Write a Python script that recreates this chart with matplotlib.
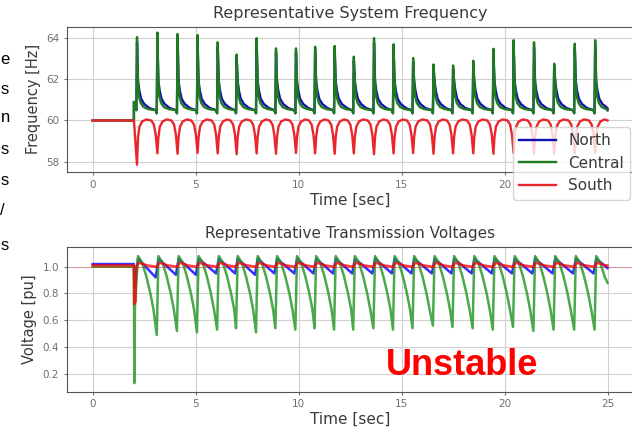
import numpy as np
import matplotlib.pyplot as plt

plt.rcParams['font.family'] = 'DejaVu Sans'

# ---- values ----
end_t = 25.0
fault_t = 2.0

# spike instants (s) and Central / North frequency peaks (Hz)
spike_t = [2.15, 3.14, 4.12, 5.09, 6.07, 6.99, 7.96, 8.90, 9.87, 10.80, 11.75, 12.68,
           13.66, 14.61, 15.56, 16.55, 17.50, 18.48, 19.46, 20.44, 21.43, 22.41, 23.41, 24.40]
central_peak = [64.05, 64.27, 64.20, 64.15, 63.80, 63.20, 64.00, 63.50, 63.50, 63.58, 63.62, 63.10,
                64.00, 63.70, 63.03, 62.72, 62.67, 62.90, 63.48, 63.90, 63.80, 62.76, 63.73, 63.90]
north_peak = [63.80, 64.00, 63.95, 63.90, 63.55, 63.00, 63.75, 63.30, 63.30, 63.35, 63.40, 62.90,
              63.75, 63.45, 62.85, 62.55, 62.50, 62.70, 63.25, 63.65, 63.55, 62.60, 63.50, 63.65]
# South frequency dips (Hz), one per spike
south_dip = [57.85, 58.40, 58.38, 58.42, 58.40, 58.36, 58.40, 58.38, 58.42, 58.40, 58.38, 58.40,
             58.36, 58.40, 58.42, 58.38, 58.40, 58.40, 58.38, 58.42, 58.40, 58.38, 58.40, 58.42]

# frequency cycle shapes: seconds after a spike -> Hz
cen_decay_dt = [0.04, 0.09, 0.18, 0.32, 0.55]
cen_decay_f = [62.0, 61.2, 60.85, 60.65, 60.55]
cen_pre_dt = [0.08, 0.03]          # seconds before next spike
cen_pre_f = [60.5, 60.35]
north_decay_dt = [0.05, 0.11, 0.20, 0.35, 0.60]
north_decay_f = [61.9, 61.45, 61.05, 60.8, 60.6]
south_rise_dt = [0.05, 0.12, 0.25, 0.45]
south_rise_f = [59.2, 59.7, 59.95, 60.05]
south_fall_dt = [0.30, 0.17, 0.08]
south_fall_f = [60.0, 59.8, 59.3]

# voltages (pu): minima reached just before each following spike
central_vmin = [0.49, 0.52, 0.51, 0.53, 0.54, 0.51, 0.54, 0.53, 0.54, 0.53, 0.53, 0.54,
                0.53, 0.54, 0.56, 0.55, 0.54, 0.53, 0.55, 0.52, 0.53, 0.53, 0.53]
north_vmin = [0.92, 0.94, 0.94, 0.95, 0.95, 0.94, 0.95, 0.95, 0.95, 0.95, 0.95, 0.95,
              0.95, 0.95, 0.95, 0.95, 0.95, 0.95, 0.95, 0.95, 0.95, 0.95, 0.95]
central_vpeak = 1.08
north_vpeak = 1.06
cen_v_decay_dt = [0.25, 0.45, 0.65, 0.80]
cen_v_decay = [1.03, 0.93, 0.80, 0.68]
south_v_dt = [0.10, 0.50]
south_v = [1.03, 1.01]


def freq_central(peaks, decay_dt, decay_f):
    t = [0.0, fault_t, fault_t, 2.07, 2.12]
    f = [60.0, 60.0, 60.9, 60.7, 60.5]
    for k, ts in enumerate(spike_t):
        t.append(ts)
        f.append(peaks[k])
        for dt, lv in zip(decay_dt, decay_f):
            t.append(ts + dt)
            f.append(lv)
        if k + 1 < len(spike_t):
            for dt, lv in zip(cen_pre_dt, cen_pre_f):
                t.append(spike_t[k + 1] - dt)
                f.append(lv)
        else:
            t.append(end_t)
            f.append(60.5)
    return t, f


def freq_south():
    t = [0.0, fault_t]
    f = [60.0, 60.0]
    for k, ts in enumerate(spike_t):
        t.append(ts)
        f.append(south_dip[k])
        for dt, lv in zip(south_rise_dt, south_rise_f):
            t.append(ts + dt)
            f.append(lv)
        if k + 1 < len(spike_t):
            for dt, lv in zip(south_fall_dt, south_fall_f):
                t.append(spike_t[k + 1] - dt)
                f.append(lv)
        else:
            t.append(end_t)
            f.append(60.0)
    return t, f


def volt_central():
    t = [0.0, fault_t, 2.02, 2.05]
    v = [1.0, 1.0, 0.13, 0.70]
    for k, ts in enumerate(spike_t):
        t.append(ts + 0.05)
        v.append(central_vpeak)
        for dt, lv in zip(cen_v_decay_dt, cen_v_decay):
            if ts + dt < end_t:
                t.append(ts + dt)
                v.append(lv)
        if k + 1 < len(spike_t):
            t.append(spike_t[k + 1] - 0.03)
            v.append(central_vmin[k])
        else:
            t.append(end_t)
            v.append(0.88)
    return t, v


def volt_north():
    t = [0.0, fault_t, 2.02, 2.08]
    v = [1.02, 1.02, 0.85, 0.90]
    for k, ts in enumerate(spike_t):
        t.append(ts + 0.05)
        v.append(north_vpeak)
        if k + 1 < len(spike_t):
            t.append(spike_t[k + 1] - 0.08)
            v.append(north_vmin[k])
        else:
            t.append(end_t)
            v.append(0.99)
    return t, v


def volt_south():
    t = [0.0, fault_t, 2.01, 2.08, 2.10]
    v = [1.01, 1.01, 0.72, 0.74, 1.0]
    for k, ts in enumerate(spike_t):
        for dt, lv in zip(south_v_dt, south_v):
            t.append(ts + dt)
            v.append(lv)
        if k + 1 < len(spike_t):
            t.append(spike_t[k + 1] - 0.03)
            v.append(1.0)
        else:
            t.append(end_t)
            v.append(1.01)
    return t, v


fig = plt.figure(figsize=(6.32, 4.32), dpi=100)
ax1 = fig.add_axes([0.106, 0.602, 0.896, 0.336])
ax2 = fig.add_axes([0.106, 0.093, 0.896, 0.336])

txt_col = '#3a3a3a'
tick_col = '#707070'

tn, fn = freq_central(north_peak, north_decay_dt, north_decay_f)
tc, fc = freq_central(central_peak, cen_decay_dt, cen_decay_f)
tsth, fs = freq_south()
ax1.plot(tn, fn, color='#1010b0', lw=1.7, label='North')
ax1.plot(tc, fc, color='#1f7a1f', lw=1.7, label='Central')
ax1.plot(tsth, fs, color='#e8262b', lw=1.7, label='South')
ax1.set_xlim(-1.25, 26.25)
ax1.set_ylim(57.5, 64.55)
ax1.set_yticks([58, 60, 62, 64])
ax1.set_xticks([0, 5, 10, 15, 20])
ax1.set_title('Representative System Frequency', fontsize=11.5, color=txt_col)
ax1.set_xlabel('Time [sec]', fontsize=11, color=txt_col, labelpad=2)
ax1.set_ylabel('Frequency [Hz]', fontsize=10.5, color=txt_col)

tvn, vn = volt_north()
tvc, vc = volt_central()
tvs, vs = volt_south()
ax2.plot(tvn, vn, color='blue', lw=1.8, alpha=0.8)
ax2.plot(tvc, vc, color='#2a9a2a', lw=1.8, alpha=0.85)
ax2.plot(tvs, vs, color='red', lw=1.8, alpha=0.75)
ax2.axhline(1.0, color='red', lw=0.7, alpha=0.3)
ax2.set_xlim(-1.25, 26.25)
ax2.set_ylim(0.065, 1.15)
ax2.set_yticks([0.2, 0.4, 0.6, 0.8, 1.0])
ax2.set_xticks([0, 5, 10, 15, 20, 25])
ax2.set_title('Representative Transmission Voltages', fontsize=11, color=txt_col)
ax2.set_xlabel('Time [sec]', fontsize=11, color=txt_col, labelpad=2)
ax2.set_ylabel('Voltage [pu]', fontsize=10.5, color=txt_col)
ax2.text(17.95, 0.26, 'Unstable', color='red', fontsize=26, fontweight='bold',
         ha='center', va='center', family='Liberation Sans')

for ax in (ax1, ax2):
    ax.grid(True, color='#d0d0d0', lw=0.8)
    ax.tick_params(labelsize=7.5, colors=tick_col, length=2)
    for sp in ax.spines.values():
        sp.set_color('#555555')

leg = ax1.legend(loc='upper left', bbox_to_anchor=(0.812, 0.706), bbox_transform=fig.transFigure,
                 fontsize=11, borderaxespad=0, handlelength=2.4, framealpha=0.8)
for tx in leg.get_texts():
    tx.set_color(txt_col)

# letters of neighbouring slide text at the left edge
for ch, ypx in zip(['e', 's', 'n', 's', 's', '/', 's'], [60, 90, 118, 150, 180, 210, 246]):
    fig.text(0.5 / 632, 1 - ypx / 432, ch, fontsize=12, va='center', family='Liberation Sans')

fig.savefig('out.png', dpi=100)
